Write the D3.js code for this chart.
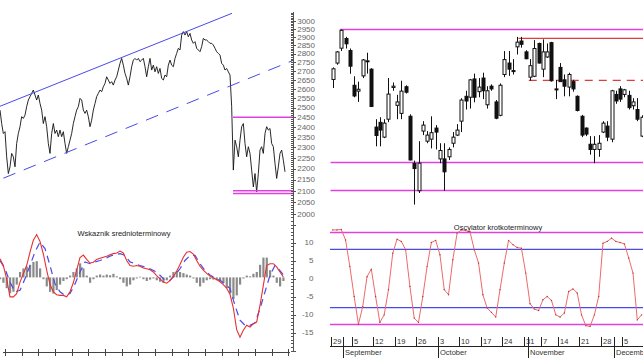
<!DOCTYPE html>
<html><head><meta charset="utf-8">
<script src="https://cdn.jsdelivr.net/npm/d3@7"></script>
<style>body{margin:0;background:#fff}svg{display:block;font-family:"Liberation Sans",Arial,sans-serif}</style>
</head><body>
<svg id="c" width="643" height="362"></svg>
<script>
// ---------- DATA ----------
// long-term close series (left panel)
const longClose = [2487,2418,2368,2377,2255,2177,2208,2271,2255,2208,2319,2368,2402,2453,2444,2461,2505,2540,2558,2576,
2594,2567,2540,2567,2522,2487,2418,2453,2402,2319,2271,2368,2418,2368,2385,2352,2385,2352,2377,2319,
2271,2303,2335,2368,2418,2453,2487,2505,2549,2540,2487,2470,2487,2453,2402,2435,2487,2522,2558,2576,
2594,2585,2612,2630,2667,2649,2630,2640,2621,2649,2667,2705,2743,2772,2733,2686,2658,2621,2667,2724,
2762,2772,2762,2772,2753,2762,2772,2724,2667,2724,2772,
2705,2733,2695,2724,2686,2714,2658,2649,2677,2667,2733,2762,2733,2724,2772,2801,2831,2821,2911,2932,
2911,2932,2901,2921,2881,2861,2871,2831,2821,2811,2841,2891,2881,2881,2871,2861,2861,2851,2831,2811,
2801,2791,2743,2733,2705,2714,2695,2677,2505,2193,2335,2303,2255,2335,2402,2418,2319,2255,2303,2271,
2193,2117,2177,2095,2177,2287,2303,2271,2368,2402,2385,2393,2319,2303,2224,2155,2208,2271,2287,2239,2185];
// trend channel (index, price)
const trendUpper = [[0,2507],[139.2,3047]];
const trendLower = [[2,2156],[175.8,2760]];
const leftLevels = [2450,2100,2088];
const leftLevelRange = [139.8,175.8];

// medium-term indicator (left bottom)
const indLine = [5.2,3.3,-0.4,-5.4,-5.4,-4.5,-1.3,1,3.3,7,10.3,11.9,10,6.5,2,-2,-4,-4.8,-5,-5,
-5.4,-4,-1.5,2,5.5,6.2,5,4,4.2,5,5.3,5.6,5.9,6.3,6.6,6.8,7.3,6.8,4.7,3.3,
3.1,3.3,3.1,2.6,2.4,2.1,1.5,0.5,-0.4,-1.3,-1.6,-0.9,0.3,1.7,3.6,5.6,7,7.2,6.5,4.7,
3.1,2,1.1,0.4,-0.2,-0.6,-1.2,-2,-3,-4.7,-8.5,-14.5,-16.6,-14.7,-13.3,-13.8,-12.9,-12.4,-7.8,-2.2,
3.3,3.8,3.8,2.9,1.5,0.1];
const indSignal = [4.7,2.4,-1.3,-4,-3.6,-0.4,3.3,7.1,9.8,8,3.3,-1.8,-4,-5,-4.5,-1.8,1.5,4.3,3.8,4.3,
4.7,5.2,5.9,6.3,6.6,6.1,4.3,3.8,3.3,2.9,2.4,1.7,0.6,-0.8,-0.8,0.6,2.4,4.7,6.1,6.1,
3.8,1.9,0.7,-0.2,-0.8,-1.8,-3.1,-7.8,-11.9,-13.3,-13.3,-12.6,-8.7,-4,0.6,3.3,1.9,0.1];
const indHist = [-0.5,-1.5,-3,-4.4,-4,-2,1.5,2.5,3,3.5,4.3,4.5,2.5,-0.5,-2.5,-4,-4.5,-3.5,-2,-1,
-0.5,0.5,1.5,2.5,3.9,2.5,0.5,-1.5,-0.5,0.5,0.8,0.5,0.8,0.6,1,0.3,-0.5,-1.5,-2.5,-2,
-0.8,-0.3,0.2,-0.5,-1,-0.6,-0.3,-0.8,-1.2,-1.5,-0.8,0.5,1.5,1.8,1.5,1.2,0.8,0.5,-0.3,-1.5,
-2.5,-1.5,-0.8,-0.5,-0.6,-0.8,-1,-1.5,-3,-4.5,-6,-5,-2,-0.3,0.5,0.3,1,1.5,3.5,5.5,
5.5,2,0.5,-1.5,-2.5,-1];

// daily candles (right panel): open, high, low, close
const cOpen  = [2652,2745,2832,2890,2818,2620,2588,2672,2755,2710,2400,2424,2350,2440,2608,2512,2470,2612,2455,2224,
2100,2380,2330,2340,2395,2245,2245,2255,2320,2360,2430,2560,2555,2655,2585,2660,2515,2615,2530,2460,
2680,2745,2702,2840,2875,2810,2665,2670,2860,2710,2780,2865,2600,2720,2650,2610,2640,2560,2455,2395,
2315,2290,2290,2375,2405,2340,2570,2600,2570,2565,2510,2490,2355];
const cHigh  = [2720,2815,2945,2900,2830,2670,2640,2768,2805,2715,2440,2450,2440,2660,2635,2568,2645,2620,2465,2237,
2330,2430,2380,2455,2410,2320,2320,2300,2375,2415,2550,2590,2655,2685,2660,2690,2615,2625,2540,2630,
2815,2815,2768,2900,2900,2820,2768,2880,2865,2885,2860,2870,2650,2745,2680,2690,2650,2565,2462,2398,
2355,2355,2360,2430,2430,2595,2590,2615,2600,2590,2550,2550,2460];
const cLow   = [2605,2735,2815,2830,2684,2555,2530,2660,2685,2503,2305,2305,2345,2425,2590,2440,2440,2575,2238,2040,
2090,2360,2320,2295,2290,2225,2100,2240,2300,2355,2375,2490,2495,2528,2555,2545,2495,2590,2440,2455,
2665,2672,2680,2795,2835,2767,2645,2665,2742,2665,2775,2640,2545,2640,2560,2560,2585,2480,2350,2355,
2265,2225,2255,2370,2330,2325,2520,2530,2555,2490,2490,2430,2350];
const cClose = [2712,2810,2940,2858,2727,2562,2598,2763,2758,2506,2358,2385,2420,2572,2615,2530,2588,2582,2240,2200,
2225,2410,2360,2372,2375,2285,2185,2290,2350,2385,2540,2535,2650,2555,2610,2590,2590,2600,2445,2620,
2765,2710,2698,2868,2855,2770,2730,2830,2745,2810,2810,2645,2595,2640,2615,2680,2600,2485,2360,2365,
2290,2315,2320,2420,2350,2590,2535,2545,2595,2500,2530,2440,2450];
const firstDay = "2011-08-29", lastDay = "2011-12-09";
const holidays = ["2011-11-01","2011-11-11"];
// levels on the candle chart: [price, start index, style]
const rightLevels = [[2945,1.7,"mag"],[2228,-0.5,"mag"],[2101,-0.5,"mag"],[2891,43.3,"red"],[2647,45.7,"redDash"]];

// short-term oscillator
const osc = [13.5,13.5,13.6,10.7,3.3,-5,-12.7,-7.8,0.5,2.6,-5,-12.2,-10.1,-3.1,7,10.9,10.3,8,-2.2,-11,
-12.2,-5,3.3,10,10.6,6.6,-3.1,-4.5,5.2,12.6,13.5,13.3,13,8,4.3,-4.5,-8.2,-9.4,-10.7,-3.1,
4.3,10.6,9.4,8.6,8.4,1.5,-7,-8.5,-8.9,-5.9,-5,-6.1,-10.1,-10.7,-9.6,-3.6,-2.9,-4,-10.1,-13.1,
-13.3,-10.1,-5,9.8,10.3,11.2,10.3,10,9.6,5.7,1.5,-11.5,-10.1];
const oscBands = [12.8,-12.8], oscInner = [8.1,-8.1];
const priceTicks = d3.range(2000,3001,50);
const oscTicks = [10,5,0,-5,-10,-15];

// ---------- DRAW ----------
const svg = d3.select("#c");
const MAG="#e040e0", BLUE="#4a4ae6", RED="#e03c3c";
const snap = v => Math.round(v)+0.5;
const yP = d3.scaleLog().domain([2000,3000]).range([214,20.7]);
const xL = d3.scaleLinear().domain([0,171]).range([0,285]);
const yOsc = d3.scaleLinear().domain([-15,10]).range([332.5,242.5]);
const yInd = d3.scaleLinear().domain([-15,10]).range([331.4,241.4]);

// trading days
const parse = d3.timeParse("%Y-%m-%d"), fmt = d3.timeFormat("%Y-%m-%d");
const days = d3.timeDay.range(parse(firstDay), d3.timeDay.offset(parse(lastDay),1))
  .filter(d=>d.getDay()>0 && d.getDay()<6 && !holidays.includes(fmt(d)));
const xD = d3.scaleLinear().domain([0,days.length-1]).range([332.7,332.7+4.29*(days.length-1)]);
const slot = 4.29;

// left price line
svg.append("path").datum(longClose)
  .attr("d", d3.line().x((d,i)=>xL(i)).y(d=>yP(d)))
  .attr("fill","none").attr("stroke","#111").attr("stroke-width",0.9);
// trend channel
svg.append("line").attr("x1",xL(trendUpper[0][0])).attr("y1",yP(trendUpper[0][1]))
  .attr("x2",xL(trendUpper[1][0])).attr("y2",yP(trendUpper[1][1]))
  .attr("stroke",BLUE).attr("stroke-width",1);
svg.append("line").attr("x1",xL(trendLower[0][0])).attr("y1",yP(trendLower[0][1]))
  .attr("x2",xL(trendLower[1][0])).attr("y2",yP(trendLower[1][1]))
  .attr("stroke",BLUE).attr("stroke-width",1).attr("stroke-dasharray","13,9");
leftLevels.forEach(v=>svg.append("line").attr("x1",xL(leftLevelRange[0])).attr("x2",xL(leftLevelRange[1]))
  .attr("y1",yP(v)).attr("y2",yP(v)).attr("stroke",MAG).attr("stroke-width",1.5));

// ruler axis
const rx = 293.5;
svg.append("line").attr("x1",rx).attr("x2",rx).attr("y1",12).attr("y2",352).attr("stroke","#555").attr("stroke-width",1);
const minorP = d3.range(2000,3051,10);
svg.append("g").selectAll("line").data(minorP).join("line")
  .attr("x1",rx-2.5).attr("x2",rx).attr("y1",d=>snap(yP(d))).attr("y2",d=>snap(yP(d)))
  .attr("stroke","#555").attr("stroke-width",1);
svg.append("g").selectAll("line").data(priceTicks).join("line")
  .attr("x1",rx-2.5).attr("x2",rx+2.5).attr("y1",d=>snap(yP(d))).attr("y2",d=>snap(yP(d)))
  .attr("stroke","#555").attr("stroke-width",1);
svg.append("g").selectAll("text").data(priceTicks).join("text")
  .attr("x",315).attr("y",d=>yP(d)+2.8).attr("text-anchor","end")
  .attr("font-size",8).attr("fill","#666").text(d=>d);
const minorO = d3.range(-20,19,1);
svg.append("g").selectAll("line").data(minorO).join("line")
  .attr("x1",rx-2.5).attr("x2",d=>d%5===0?rx+2.5:rx)
  .attr("y1",d=>snap(yOsc(d))).attr("y2",d=>snap(yOsc(d)))
  .attr("stroke","#555").attr("stroke-width",1);
svg.append("g").selectAll("text").data(oscTicks).join("text")
  .attr("x",313.5).attr("y",d=>yOsc(d)+2.8).attr("text-anchor","end")
  .attr("font-size",8).attr("fill","#666").text(d=>d);

// candle levels
const xEnd = 643;
rightLevels.forEach(([v,s,t])=>{
  svg.append("line").attr("x1",xD(s)).attr("x2",xEnd).attr("y1",yP(v)).attr("y2",yP(v))
    .attr("stroke",t==="mag"?MAG:RED).attr("stroke-width",t==="mag"?1.5:1.3)
    .attr("stroke-dasharray",t==="redDash"?"8,6":null);
});
// candles
const cg = svg.append("g");
cOpen.forEach((o,i)=>{
  const cx = Math.round(xD(i))+0.5, c=cClose[i];
  cg.append("line").attr("x1",cx).attr("x2",cx).attr("y1",yP(cHigh[i])).attr("y2",yP(cLow[i]))
    .attr("stroke","#111").attr("stroke-width",1);
  const top = yP(Math.max(o,c)), bot = yP(Math.min(o,c));
  cg.append("rect").attr("x",cx-1.5).attr("width",3).attr("y",top).attr("height",Math.max(1,bot-top))
    .attr("fill",c>=o?"#fff":"#111").attr("stroke","#111").attr("stroke-width",1);
});

// right x axis
const ax = svg.append("g");
ax.append("line").attr("x1",330).attr("x2",643).attr("y1",346.5).attr("y2",346.5).attr("stroke","#222");
days.forEach((d,i)=>{
  const x = Math.round(xD(i)-slot/2)+0.5;
  if(d.getDay()===1){
    ax.append("line").attr("x1",x).attr("x2",x).attr("y1",337).attr("y2",346.5).attr("stroke","#222");
    ax.append("text").attr("x",x+1.5).attr("y",343.5).attr("font-size",7.5).attr("fill","#333").text(d.getDate());
  }
  if(i>0 && d.getMonth()!==days[i-1].getMonth()){
    ax.append("line").attr("x1",x).attr("x2",x).attr("y1",337).attr("y2",358).attr("stroke","#222");
    ax.append("text").attr("x",x+1.5).attr("y",355).attr("font-size",7.5).attr("fill","#333").text(d3.timeFormat("%B")(d));
  }
});

// oscillator
[oscBands,oscInner].forEach((arr,k)=>arr.forEach(v=>svg.append("line").attr("x1",330).attr("x2",xEnd)
  .attr("y1",yOsc(v)).attr("y2",yOsc(v)).attr("stroke",k===0?MAG:BLUE).attr("stroke-width",k===0?1.5:1.3)));
svg.append("path").datum(osc).attr("d",d3.line().x((d,i)=>xD(i)).y(d=>yOsc(d)))
  .attr("fill","none").attr("stroke","#ee6a6a").attr("stroke-width",1);
svg.append("g").selectAll("circle").data(osc).join("circle")
  .attr("cx",(d,i)=>xD(i)).attr("cy",d=>yOsc(d)).attr("r",0.7).attr("fill","#c03030");
svg.append("text").attr("x",498).attr("y",230).attr("text-anchor","middle").attr("font-size",7.5)
  .attr("fill","#222").text("Oscylator krotkoterminowy");

// medium-term indicator
svg.append("g").selectAll("rect").data(indHist).join("rect")
  .attr("x",(d,i)=>xL(i*2)-1).attr("width",2.2)
  .attr("y",d=>Math.min(yInd(0),yInd(d))).attr("height",d=>Math.abs(yInd(d)-yInd(0)))
  .attr("fill","#8a8a8a");
svg.append("path").datum(indSignal).attr("d",d3.line().x((d,i)=>xL(i*3)).y(d=>yInd(d)))
  .attr("fill","none").attr("stroke",BLUE).attr("stroke-width",1.2).attr("stroke-dasharray","7,5");
svg.append("path").datum(indLine).attr("d",d3.line().x((d,i)=>xL(i*2)).y(d=>yInd(d)))
  .attr("fill","none").attr("stroke","#e83030").attr("stroke-width",1.1);
svg.append("text").attr("x",124).attr("y",235.5).attr("text-anchor","middle").attr("font-size",7.5)
  .attr("fill","#222").text("Wskaznik srednioterminowy");

// left bottom axis (time ruler)
const lb = svg.append("g");
lb.append("line").attr("x1",3).attr("x2",290).attr("y1",352.5).attr("y2",352.5).attr("stroke","#444");
d3.range(0,172,10).forEach(i=>{
  const x=Math.round(xL(i)+5)+0.5;
  lb.append("line").attr("x1",x).attr("x2",x).attr("y1",349).attr("y2",356).attr("stroke","#444");
});
</script>
</body></html>
